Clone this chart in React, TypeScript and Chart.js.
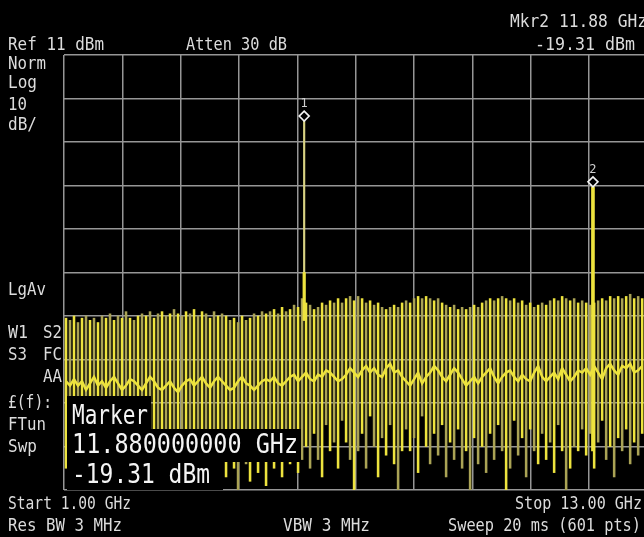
import { useEffect, useRef } from 'react';
import { Chart, registerables } from 'chart.js';
Chart.register(...registerables);

// ---- axis definition ----
const START_GHZ = 1.0;
const STOP_GHZ = 13.0;
const X_VIEW_MAX = 12.93; // right edge of the photographed screen
const X_GRID = [1, 2.2, 3.4, 4.6, 5.8, 7, 8.2, 9.4, 10.6, 11.8, 13];
const Y_GRID = [11, 1, -9, -19, -29, -39, -49, -59, -69, -79, -89];
const Y_MIN = -89;
const Y_MAX = 11;
const TOOTH_STEP_GHZ = 0.0823;

// ---- noise comb (dBm) ----
const NOISE_TOP = [
  -49.5, -50, -49, -50.5, -49.5, -49, -50, -49.5, -50.5, -49,
  -49.5, -48.5, -50, -49, -49.5, -48, -49.5, -50, -49, -48.5,
  -49, -48, -49.5, -48.5, -48, -49, -48.5, -47.5, -48.5, -49,
  -48, -48.5, -47.5, -49, -48, -48.5, -49.5, -48, -49, -48.5,
  -49, -50, -49.5, -50.5, -49, -50, -49.5, -48.5, -49, -48,
  -48.5, -48, -47.5, -48.5, -47, -48, -47.5, -46.5, -47, -45,
  -46, -46.5, -47.5, -47, -46, -46.5, -45.5, -46, -45, -46,
  -45, -44.5, -45.5, -44.5, -45, -46, -45.5, -46.5, -46, -47,
  -47.5, -47, -46.5, -47, -46, -45.5, -46, -45, -44.5, -45,
  -44.5, -45, -45.5, -45, -46, -46.5, -47, -46.5, -47.5, -47,
  -47.5, -47, -46.5, -47, -46, -45.5, -45, -45.5, -45, -44.5,
  -45, -45.5, -45, -46, -45.5, -46.5, -46, -47, -46.5, -46,
  -46.5, -45.5, -45, -45.5, -44.5, -45, -45.5, -45, -46, -45.5,
  -46, -46.5, -46, -45.5, -45, -45.5, -44.5, -45, -44.5, -45,
  -44.5, -44, -45, -44.5, -45,
];
const NOISE_LOW = [
  -84, -78, -86, -80, -88, -76, -82, -85, -79, -87,
  -80, -84, -77, -86, -82, -89, -79, -83, -86, -78,
  -85, -81, -88, -77, -83, -86, -80, -84, -78, -87,
  -82, -79, -86, -84, -80, -88, -77, -85, -82, -80,
  -86, -81, -84, -89, -79, -83, -87, -80, -85, -82,
  -88, -78, -84, -81, -86, -80, -83, -77, -85, -82,
  -79, -84, -76, -82, -86, -74, -80, -78, -84, -73,
  -78, -82, -89, -80, -76, -84, -72, -79, -86, -77,
  -81, -74, -83, -89, -80, -75, -80, -77, -85, -72,
  -79, -83, -76, -81, -74, -86, -78, -82, -75, -84,
  -80, -89, -77, -83, -79, -85, -76, -82, -74, -80,
  -89, -84, -73, -81, -77, -86, -75, -80, -83, -76,
  -82, -78, -85, -74, -80, -89, -84, -79, -80, -75,
  -81, -76, -84, -78, -73, -82, -79, -86, -77, -80,
  -75, -83, -78, -81, -76,
];
const NOISE_MID = [
  -64, -65, -63.5, -65, -64, -66, -64.5, -63, -65, -64,
  -65.5, -64, -63, -64.5, -66, -65, -63.5, -64, -65, -66,
  -64.5, -63, -64, -65.5, -66, -65, -64, -65.5, -66.5, -65,
  -64, -63.5, -65, -64, -63, -64.5, -65.5, -64, -63, -64,
  -65, -66, -65.5, -64, -63, -64.5, -65, -66, -65, -64,
  -63.5, -64, -63, -64.5, -65, -64, -63, -62.5, -64, -63,
  -62, -63.5, -64, -62.5, -63, -61.5, -62, -63, -64, -63.5,
  -62.5, -61, -62, -63, -61.5, -60.5, -62, -61, -62.5, -63,
  -61, -60, -62, -61.5, -63, -64, -65, -63.5, -62, -64.5,
  -63, -62, -60.5, -61.5, -63, -64, -62.5, -61, -62, -63.5,
  -65, -64, -63, -64.5, -63, -62, -61, -63, -64.5, -63,
  -62, -61.5, -63, -64, -62.5, -63.5, -64, -62, -60.5, -63,
  -64, -63, -62, -63.5, -61, -62.5, -64, -63, -61.5, -62,
  -61, -62.5, -60.5, -62, -63.5, -61, -60, -61.5, -62.5, -60.5,
  -61, -60, -62, -61.5, -60.5,
];

// ---- signals / markers ----
const MARKER_NAMES = ['1', '2'];
const MARKER_FREQS = [5.94, 11.88];
const MARKER_LEVELS = [-4.2, -19.31];
const SPIKE_FLOORS = [-50, -80];
const SPIKE1_CORE = [-50, -39];

const YELLOW = '#ede33e';
const OLIVE = '#aaa355';
const PALE = '#d8d283';
const GRID = '#969696';
const TEXT = '#dcdcdc';
const MONO = '"DejaVu Sans Mono", monospace';

const TOOTH_FREQS = NOISE_TOP.map((_, i) => START_GHZ + (i + 0.5) * TOOTH_STEP_GHZ);

function txt(
  ctx: CanvasRenderingContext2D,
  s: string,
  x: number,
  y: number,
  size: number,
  maxW?: number,
  align: CanvasTextAlign = 'left',
  color: string = TEXT
) {
  ctx.font = `${size}px ${MONO}`;
  ctx.fillStyle = color;
  ctx.textAlign = align;
  ctx.textBaseline = 'alphabetic';
  if (maxW) ctx.fillText(s, x, y, maxW);
  else ctx.fillText(s, x, y);
}

const bgPlugin = {
  id: 'bg',
  beforeDraw(chart: any) {
    const ctx = chart.ctx;
    ctx.save();
    ctx.fillStyle = '#000';
    ctx.fillRect(0, 0, chart.width, chart.height);
    ctx.restore();
  },
};

const overlayPlugin = {
  id: 'overlay',
  afterDatasetsDraw(chart: any) {
    const ctx: CanvasRenderingContext2D = chart.ctx;
    const xs = chart.scales.x;
    const ys = chart.scales.y;
    ctx.save();
    MARKER_FREQS.forEach((f, i) => {
      const px = xs.getPixelForValue(f);
      const py = ys.getPixelForValue(MARKER_LEVELS[i]) - 5;
      ctx.beginPath();
      ctx.moveTo(px, py - 5);
      ctx.lineTo(px + 5, py);
      ctx.lineTo(px, py + 5);
      ctx.lineTo(px - 5, py);
      ctx.closePath();
      ctx.fillStyle = '#000';
      ctx.fill();
      ctx.strokeStyle = '#f2f2f2';
      ctx.lineWidth = 1.6;
      ctx.stroke();
      txt(ctx, MARKER_NAMES[i], px, py - 9, 12, undefined, 'center', '#cfcfcf');
    });
    ctx.restore();
  },
  afterDraw(chart: any) {
    const ctx: CanvasRenderingContext2D = chart.ctx;
    ctx.save();
    // marker readout boxes
    ctx.fillStyle = '#000';
    ctx.fillRect(67, 396, 84, 34);
    ctx.fillRect(67, 429, 234, 33);
    ctx.fillRect(67, 461, 156, 29);
    txt(ctx, 'Marker', 72, 424, 26, 76, 'left', '#f4f4f4');
    txt(ctx, '11.880000000 GHz', 72, 453, 26, 226, 'left', '#f4f4f4');
    txt(ctx, '-19.31 dBm', 72, 483, 26, 138, 'left', '#f4f4f4');

    // header
    txt(ctx, 'Ref 11 dBm', 8, 50, 17, 96);
    txt(ctx, 'Atten 30 dB', 186, 50, 17, 101);
    txt(ctx, 'Mkr2 11.88 GHz', 510, 27, 17, 137);
    txt(ctx, '-19.31 dBm', 535, 50, 17, 100);

    // left annotation column
    txt(ctx, 'Norm', 8, 69, 17, 38);
    txt(ctx, 'Log', 8, 88, 17, 29);
    txt(ctx, '10', 8, 110, 17, 19);
    txt(ctx, 'dB/', 8, 130, 17, 29);
    txt(ctx, 'LgAv', 8, 295, 17, 38);
    txt(ctx, 'W1', 8, 338, 17, 20);
    txt(ctx, 'S2', 62, 338, 17, 19, 'right');
    txt(ctx, 'S3', 8, 360, 17, 19);
    txt(ctx, 'FC', 62, 360, 17, 19, 'right');
    txt(ctx, 'AA', 62, 382, 17, 19, 'right');
    txt(ctx, '£(f):', 8, 408, 17, 44);
    txt(ctx, 'FTun', 8, 430, 17, 38);
    txt(ctx, 'Swp', 8, 452, 17, 29);

    // footer
    txt(ctx, 'Start 1.00 GHz', 8, 509, 17, 123);
    txt(ctx, 'Res BW 3 MHz', 8, 531, 17, 114);
    txt(ctx, 'VBW 3 MHz', 283, 531, 17, 87);
    txt(ctx, 'Stop 13.00 GHz', 642, 509, 17, 127, 'right');
    txt(ctx, 'Sweep 20 ms (601 pts)', 641, 531, 17, 193, 'right');
    ctx.restore();
  },
};

export default function App() {
  const ref = useRef<HTMLCanvasElement>(null);
  useEffect(() => {
    document.body.style.margin = '0';
    document.body.style.background = '#000';
    const gridOpts = { color: GRID, lineWidth: 1.5, drawTicks: false, offset: false };
    const chart = new Chart(ref.current!, {
      type: 'bar',
      data: {
        datasets: [
          {
            type: 'bar',
            label: 'spike2',
            data: [{ x: MARKER_FREQS[1], y: [SPIKE_FLOORS[1], MARKER_LEVELS[1]] }],
            backgroundColor: YELLOW,
            barThickness: 3,
            grouped: false,
            order: 1,
          } as any,
          {
            type: 'bar',
            label: 'spike1core',
            data: [{ x: MARKER_FREQS[0], y: SPIKE1_CORE }],
            backgroundColor: YELLOW,
            barThickness: 2.5,
            grouped: false,
            order: 2,
          } as any,
          {
            type: 'bar',
            label: 'spike1',
            data: [{ x: MARKER_FREQS[0], y: [SPIKE_FLOORS[0], MARKER_LEVELS[0]] }],
            backgroundColor: PALE,
            barThickness: 1.5,
            grouped: false,
            order: 3,
          } as any,
          {
            type: 'line',
            label: 'mid',
            data: TOOTH_FREQS.map((f, i) => ({ x: f, y: NOISE_MID[i] })),
            borderColor: YELLOW,
            borderWidth: 2.5,
            pointRadius: 0,
            tension: 0,
            order: 4,
          } as any,
          {
            type: 'bar',
            label: 'noise',
            data: TOOTH_FREQS.map((f, i) => ({ x: f, y: [NOISE_LOW[i], NOISE_TOP[i]] })),
            backgroundColor: (c: any) => (c.dataIndex % 2 ? OLIVE : YELLOW),
            barThickness: 1.9,
            grouped: false,
            order: 5,
          } as any,
        ],
      },
      options: {
        responsive: false,
        animation: false,
        events: [],
        layout: { padding: { left: 64, top: 55, right: 0, bottom: 47 } },
        plugins: { legend: { display: false }, tooltip: { enabled: false } },
        scales: {
          x: {
            type: 'linear',
            min: START_GHZ,
            max: X_VIEW_MAX,
            offset: false,
            ticks: { display: false },
            grid: gridOpts,
            border: { display: false },
            afterBuildTicks: (s: any) => {
              s.ticks = X_GRID.filter((v) => v <= STOP_GHZ).map((v) => ({ value: v }));
            },
          },
          y: {
            type: 'linear',
            min: Y_MIN,
            max: Y_MAX,
            ticks: { display: false },
            grid: gridOpts,
            border: { display: false },
            afterBuildTicks: (s: any) => {
              s.ticks = Y_GRID.map((v) => ({ value: v }));
            },
          },
        },
      } as any,
      plugins: [bgPlugin, overlayPlugin],
    });
    return () => chart.destroy();
  }, []);
  return (
    <canvas
      ref={ref}
      width={644}
      height={537}
      style={{ display: 'block', width: 644, height: 537 }}
    />
  );
}
